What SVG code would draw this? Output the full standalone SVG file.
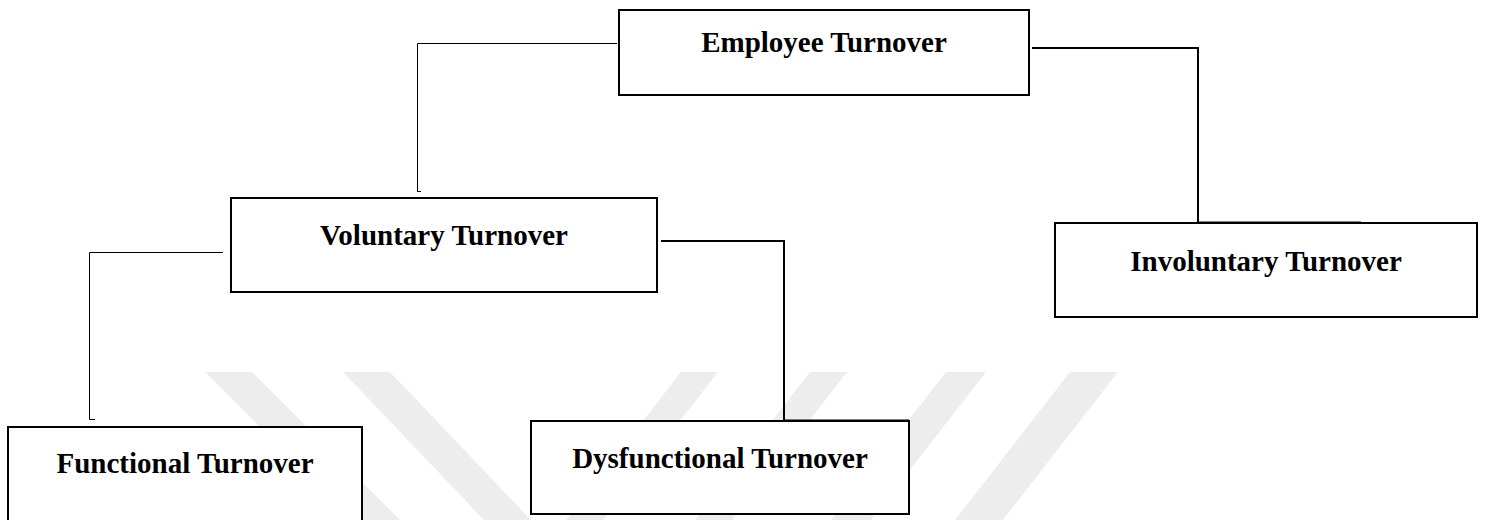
<svg xmlns="http://www.w3.org/2000/svg" width="1486" height="520" viewBox="0 0 1486 520">
<style>
.box{fill:#fff;stroke:#000;stroke-width:2}
.lbl{font-family:"Liberation Serif","Times New Roman",serif;font-weight:bold;font-size:29px;fill:#000;text-anchor:middle}
.thin{fill:none;stroke:#000;stroke-width:1}
.thick{fill:none;stroke:#000;stroke-width:2}
.wm{fill:#ededed}
</style>
<rect width="1486" height="520" fill="#fff"/>
<g id="watermark">
<polygon class="wm" points="205,372 252,372 400,520 353,520"/>
<polygon class="wm" points="343,372 390,372 531,520 484,520"/>
<polygon class="wm" points="681,372 718,372 603,520 566,520"/>
<polygon class="wm" points="810,372 847,372 732,520 695,520"/>
<polygon class="wm" points="946,372 986,372 871,520 831,520"/>
<polygon class="wm" points="1070,372 1118,372 1003,520 955,520"/>
</g>
<g id="connectors">
<polyline class="thin" points="617,43.5 417.5,43.5 417.5,191.5 421,191.5"/>
<polyline class="thick" points="1032,48 1198,48 1198,223"/>
<line x1="1198" y1="223" x2="1361" y2="223" stroke="#000" stroke-width="3"/>
<polyline class="thin" points="223,252.5 89.5,252.5 89.5,419.5 95,419.5"/>
<polyline class="thick" points="661,241 784,241 784,421"/>
<line x1="784" y1="421" x2="909" y2="421" stroke="#000" stroke-width="3"/>
</g>
<g id="employee">
<rect class="box" x="619" y="10" width="410" height="85"/>
<text class="lbl" x="824" y="52">Employee Turnover</text>
</g>
<g id="voluntary">
<rect class="box" x="231" y="198" width="426" height="94"/>
<text class="lbl" x="444" y="245">Voluntary Turnover</text>
</g>
<g id="involuntary">
<rect class="box" x="1055" y="223" width="422" height="94"/>
<text class="lbl" x="1266" y="271">Involuntary Turnover</text>
</g>
<g id="functional">
<rect class="box" x="8" y="427" width="354" height="100"/>
<text class="lbl" x="185" y="473">Functional Turnover</text>
</g>
<g id="dysfunctional">
<rect class="box" x="531" y="421" width="378" height="93"/>
<text class="lbl" x="720" y="468">Dysfunctional Turnover</text>
</g>
</svg>
